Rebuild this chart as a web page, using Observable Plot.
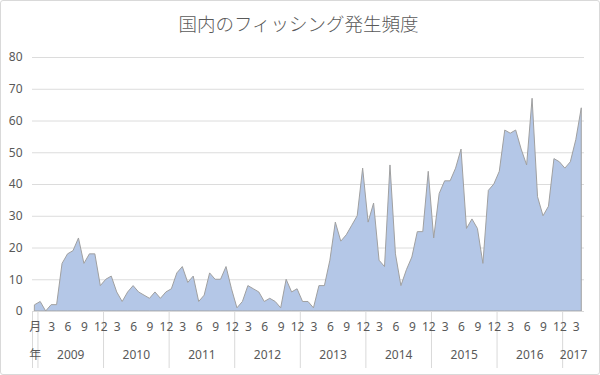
<!DOCTYPE html>
<html>
<head>
<meta charset="utf-8">
<script src="https://cdn.jsdelivr.net/npm/d3@7"></script>
<script src="https://cdn.jsdelivr.net/npm/@observablehq/plot@0.6"></script>
<style>
  html, body { margin: 0; padding: 0; background: #fff; }
  #chart svg { display: block; outline: 1px solid #d9d9d9; outline-offset: -1px; border-radius: 3px; }
</style>
</head>
<body>
<div id="chart"></div>
<script>
const title = "国内のフィッシング発生頻度";
// first column is the header category (月 / 年), then Jan 2009 ... Apr 2017
const headerMonth = "月";
const headerYear = "年";
const years = [2009, 2010, 2011, 2012, 2013, 2014, 2015, 2016, 2017];
const monthTickLabels = [3, 6, 9, 12];
const yTicks = [0, 10, 20, 30, 40, 50, 60, 70, 80];
const counts = [
  2,
  3, 0, 2, 2, 15, 18, 19, 23, 15, 18, 18, 8,      // 2009
  10, 11, 6, 3, 6, 8, 6, 5, 4, 6, 4, 6,           // 2010
  7, 12, 14, 9, 11, 3, 5, 12, 10, 10, 14, 7,      // 2011
  1, 3, 8, 7, 6, 3, 4, 3, 1, 10, 6, 7,            // 2012
  3, 3, 1, 8, 8, 16, 28, 22, 24, 27, 30, 45,      // 2013
  28, 34, 16, 14, 46, 18, 8, 13, 17, 25, 25, 44,  // 2014
  23, 37, 41, 41, 45, 51, 26, 29, 26, 15, 38, 40, // 2015
  44, 57, 56, 57, 51, 46, 67, 36, 30, 33, 48, 47, // 2016
  45, 47, 54, 64                                  // 2017
];

const rows = counts.map((c, i) => ({i, count: c}));
const monthOf = i => ((i - 1) % 12) + 1;
const yearOf = i => years[Math.floor((i - 1) / 12)];

const monthRows = [{i: 0, label: headerMonth}].concat(
  rows.filter(r => r.i > 0 && monthTickLabels.includes(monthOf(r.i)))
      .map(r => ({i: r.i, label: String(monthOf(r.i))}))
);
const yearRows = [{i: 0, label: headerYear}].concat(
  years.map(y => {
    const idx = rows.filter(r => r.i > 0 && yearOf(r.i) === y).map(r => r.i);
    return {i: d3.mean(idx), label: String(y)};
  })
);
const separators = [-0.5].concat(years.map(y => {
  const idx = rows.filter(r => r.i > 0 && yearOf(r.i) === y).map(r => r.i);
  return d3.min(idx) - 0.5;
}));

const font = "'Noto Sans', 'Noto Sans CJK JP', sans-serif";
const gray = "#595959";

const chart = Plot.plot({
  width: 600,
  height: 375,
  marginLeft: 32,
  marginRight: 16,
  marginTop: 57,
  marginBottom: 64,
  style: {fontFamily: font, background: "white", color: gray, overflow: "visible"},
  x: {domain: [-0.5, counts.length - 0.5], axis: null},
  y: {domain: [0, 80], axis: null},
  marks: [
    Plot.gridY(yTicks, {stroke: "#dcdcdc", strokeOpacity: 1}),
    Plot.axisY(yTicks, {tickSize: 0, tickPadding: 10, fontSize: 12, fill: gray, label: null}),
    Plot.areaY(rows, {x: "i", y: "count", fill: "#b4c7e7", stroke: "#a0a0a0", strokeWidth: 1, curve: "linear"}),
    Plot.ruleY([0], {stroke: "#d9d9d9"}),
    Plot.axisX(separators, {tickSize: 57, tickFormat: () => "", stroke: "#d9d9d9", strokeOpacity: 1, label: null}),
    Plot.text(monthRows, {x: "i", text: "label", frameAnchor: "bottom", dy: 16, lineAnchor: "middle", fontSize: 12, fill: gray}),
    Plot.text(yearRows, {x: "i", text: "label", frameAnchor: "bottom", dy: 44, lineAnchor: "middle", fontSize: 12, fill: gray}),
    Plot.text([title], {frameAnchor: "top", dx: -10, dy: -32, lineAnchor: "middle", fontSize: 18.5, fontWeight: 300, fill: gray, fontFamily: "'Noto Sans CJK JP', sans-serif"})
  ]
});
document.getElementById("chart").appendChild(chart);
</script>
</body>
</html>
